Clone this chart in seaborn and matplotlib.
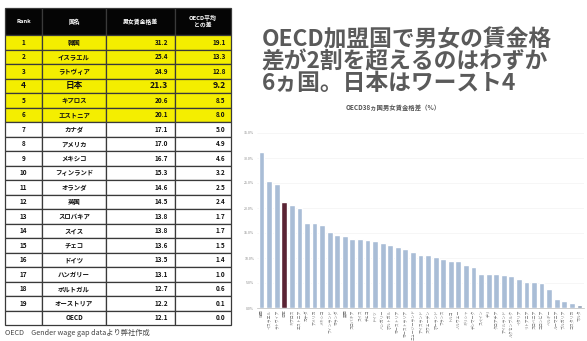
import matplotlib
matplotlib.use("Agg")
import matplotlib.pyplot as plt
import seaborn as sns
import pandas as pd

# ---------------- data ----------------
table_rank = ["1", "2", "3", "4", "5", "6", "7", "8", "9", "10", "11", "12", "13", "14",
              "15", "16", "17", "18", "19", ""]
table_names = ["韓国", "イスラエル", "ラトヴィア", "日本", "キプロス", "エストニア", "カナダ",
               "アメリカ", "メキシコ", "フィンランド", "オランダ", "英国", "スロバキア", "スイス",
               "チェコ", "ドイツ", "ハンガリー", "ポルトガル", "オーストリア", "OECD"]
table_gap = [31.2, 25.4, 24.9, 21.3, 20.6, 20.1, 17.1, 17.0, 16.7, 15.3, 14.6, 14.5, 13.8,
             13.8, 13.6, 13.5, 13.1, 12.7, 12.2, 12.1]
table_diff = [19.1, 13.3, 12.8, 9.2, 8.5, 8.0, 5.0, 4.9, 4.6, 3.2, 2.5, 2.4, 1.7, 1.7,
              1.5, 1.4, 1.0, 0.6, 0.1, 0.0]
table_header = ["Rank", "国名", "男女賃金格差", "OECD平均\nとの差"]

chart_countries = ["韓国", "イスラエル", "ラトヴィア", "日本", "キプロス", "エストニア", "カナダ",
                   "アメリカ", "メキシコ", "フィンランド", "オランダ", "英国", "スロバキア", "スイス",
                   "チェコ", "ドイツ", "ハンガリー", "ポルトガル", "オーストリア",
                   "オーストラリア", "ニュージーランド", "アイスランド", "スウェーデン", "ポーランド",
                   "フランス", "トルコ", "ノルウェー", "ギリシャ", "デンマーク", "スペイン", "チリ",
                   "クロアチア", "アイルランド", "ルクセンブルク", "イタリア", "リトアニア",
                   "スロベニア", "コロンビア", "ベルギー", "ルーマニア", "ブルガリア",
                   "コスタリカ", "マルタ"]
chart_values = [31.2, 25.4, 24.9, 21.3, 20.6, 20.1, 17.1, 17.0, 16.7, 15.3, 14.6, 14.5, 13.8,
                13.8, 13.6, 13.5, 13.1, 12.7, 12.2,
                11.9, 11.3, 10.7, 10.7, 10.3, 9.9, 9.5, 9.5, 8.7, 8.3, 6.9, 6.9, 6.8, 6.6,
                6.4, 5.8, 5.3, 5.3, 5.1, 3.9, 1.9, 1.4, 1.1, 0.6]
y_ticks = [0, 5, 10, 15, 20, 25, 30, 35]

heading_lines = ["OECD加盟国で男女の賃金格", "差が2割を超えるのはわずか", "6ヵ国。日本はワースト4"]
chart_title = "OECD38ヵ国男女賃金格差（%）"
source_text = "OECD　Gender wage gap dataより弊社作成"

# ---------------- style ----------------
sns.set_style("white")
plt.rcParams["font.family"] = ["Noto Sans CJK JP", "DejaVu Sans"]

W, H = 587, 341
fig = plt.figure(figsize=(W / 100, H / 100), dpi=100)
fig.patch.set_facecolor("white")


def box(x0, y0, x1, y1):
    return [x0 / W, 1 - y1 / H, (x1 - x0) / W, (y1 - y0) / H]


# ---------------- table ----------------
ax_t = fig.add_axes(box(5, 8, 231, 325))
ax_t.axis("off")
cell_text = [[r, n, f"{g:.1f}", f"{d:.1f}"] for r, n, g, d in
             zip(table_rank, table_names, table_gap, table_diff)]
tbl = ax_t.table(cellText=cell_text, colLabels=table_header, bbox=[0, 0, 1, 1],
                 colWidths=[37, 64, 69, 56])
tbl.auto_set_font_size(False)
hdr_h, row_h = 27, 14.5
for (r, c), cell in tbl.get_celld().items():
    cell.set_edgecolor("#3a3a3a")
    cell.set_linewidth(0.9)
    txt = cell.get_text()
    if r == 0:
        cell.set_height(hdr_h)
        cell.set_facecolor("#050505")
        txt.set_color("white")
        txt.set_fontsize(4.2)
        txt.set_fontweight("bold")
        txt.set_ha("center")
        cell._loc = "center"
    else:
        cell.set_height(row_h)
        cell.set_facecolor("#f4ee00" if r <= 6 else "white")
        txt.set_color("#111111")
        txt.set_fontweight("bold")
        txt.set_fontsize(6.2 if r == 4 else 4.6)
        if c >= 2:
            cell._loc = "right"
            txt.set_ha("right")
        else:
            cell._loc = "center"
            txt.set_ha("center")

# ---------------- heading ----------------
for i, line in enumerate(heading_lines):
    fig.text(262 / W, 1 - (40 + 21.5 * i) / H, line, fontsize=16.4, fontweight="bold",
             color="#5a5a5a", ha="left", va="center")

fig.text(393 / W, 1 - 108 / H, chart_title, fontsize=4.6, fontweight="bold",
         color="#555555", ha="center", va="center")

# ---------------- bar chart ----------------
ax = fig.add_axes(box(257, 128, 584, 308))
df = pd.DataFrame({"country": chart_countries, "value": chart_values})
colors = ["#5b2434" if c == "日本" else "#a9bdd6" for c in chart_countries]
colors[-1] = "#8e9fb5"
sns.barplot(data=df, x="country", y="value", hue="country", palette=colors,
            legend=False, width=0.76, ax=ax, saturation=1)
ax.set_ylim(0, 36)
ax.set_xlim(-0.6, len(chart_countries) - 0.4)
ax.set_yticks(y_ticks)
ax.set_yticklabels([f"{t:.1f}%" for t in y_ticks], fontsize=2.6, color="#888888")
ax.tick_params(axis="x", labelsize=2.8, labelcolor="#777777", rotation=90, length=0, pad=1)
ax.tick_params(axis="y", length=0, pad=2)
ax.set_xlabel("")
ax.set_ylabel("")
ax.grid(axis="y", color="#f0f0f0", linewidth=0.4)
ax.set_axisbelow(True)
for s in ["top", "right", "left"]:
    ax.spines[s].set_visible(False)
ax.spines["bottom"].set_color("#bbbbbb")
ax.spines["bottom"].set_linewidth(0.5)

# ---------------- footer ----------------
fig.text(5 / W, 1 - 333 / H, source_text, fontsize=5.2, color="#444444",
         ha="left", va="center")

fig.savefig("out.png", dpi=100)
